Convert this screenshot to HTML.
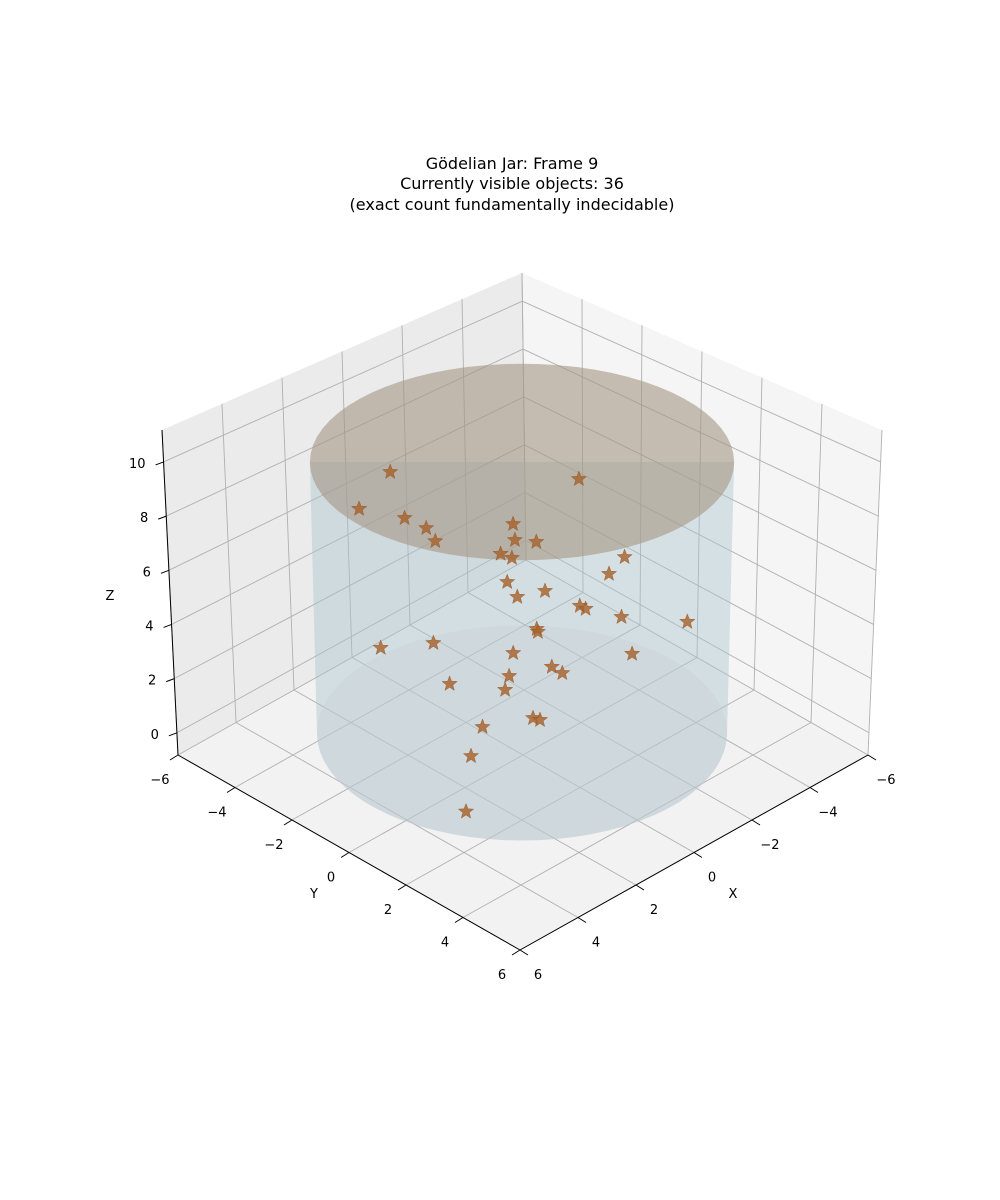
<!DOCTYPE html>
<html><head><meta charset="utf-8"><style>
html,body{margin:0;padding:0;background:#fff;}
svg{display:block;font-family:"DejaVu Sans","Liberation Sans",sans-serif;}
</style></head><body>
<svg id="chart" width="1000" height="1200" viewBox="0 0 1000 1200" xmlns="http://www.w3.org/2000/svg">
<g id="title" font-size="16" text-anchor="middle" fill="#000">
<text x="512" y="169">Gödelian Jar: Frame 9</text>
<text x="512" y="189">Currently visible objects: 36</text>
<text x="512" y="210">(exact count fundamentally indecidable)</text>
</g>
<g id="panes"></g>
<g id="grid"></g>
<g id="jar"></g>
<g id="stars"></g>
<g id="axes"></g>
</svg>
<script>
// data: star positions (x, y, z)
const xs=[2.2,2.73,1.97,1.61,1.46,-0.95,0.15,0.12,-0.24,0.36,0.17,-1.73,-1.47,0.25,-0.39,0.08,-0.98,-1.08,-1.69,-2.81,-0.25,-0.27,1.51,2.41,0.15,-1.88,-0.51,-0.69,0.22,1.24,0.29,-0.19,-0.31,0.68,1.64,3.55];
const ys=[-2.2,-2.73,-1.97,-1.61,-1.46,0.95,-0.15,-0.12,0.24,-0.36,-0.17,1.73,1.47,-0.25,0.39,-0.08,0.98,1.08,1.69,2.81,0.25,0.27,-1.51,-2.41,-0.15,1.88,0.51,0.69,-0.22,-1.24,-0.29,0.19,0.31,-0.68,-0.12,1.62];
const zs=[9.63,8.27,7.93,7.56,7.08,9.37,7.71,7.12,7.05,6.61,6.46,6.49,5.87,5.57,5.24,5.02,4.69,4.58,4.28,4.10,3.84,3.73,3.32,3.14,2.95,2.92,2.44,2.21,2.10,1.81,1.59,0.55,0.48,0.22,0,0];
const xTicks=[-6,-4,-2,0,2,4,6];
const xTickLabels=["−6","−4","−2","0","2","4","6"];
const yTicks=[-6,-4,-2,0,2,4,6];
const yTickLabels=["−6","−4","−2","0","2","4","6"];
const zTicks=[0,2,4,6,8,10];
const zTickLabels=["0","2","4","6","8","10"];
const jarRadius=5, jarBottom=0, jarTop=10;
const ZMIN=-0.82, ZMAX=11.18;

const NS="http://www.w3.org/2000/svg";
function el(tag,attrs,parent){const e=document.createElementNS(NS,tag);for(const k in attrs)e.setAttribute(k,attrs[k]);parent.appendChild(e);return e;}
function L(a,b,t){return [a[0]+(b[0]-a[0])*t,a[1]+(b[1]-a[1])*t];}
const F_L=[178,755],F_F=[520,950],F_R=[868,755],F_B=[526,560];
const T_L=[162,430],T_B=[522,273],T_R=[882,430];
function proj(x,y,z){const vx=29+0.1*z, vy=15.2-0.13*z;
  return [522+(y-x)*vx, 733-27.1*z+(x+y)*vy];}
const fx=v=>(6-v)/12;
const fy=v=>(v+6)/12;
const fz=v=>(v-ZMIN)/(ZMAX-ZMIN);

const panes=document.getElementById('panes');
let p;
p=el('polygon',{points:[F_L,F_F,F_R,F_B].join(' '),fill:'#f2f2f2'},panes);

p=el('polygon',{points:[T_L,T_B,F_B,F_L].join(' '),fill:'#ebebeb'},panes);

p=el('polygon',{points:[T_B,T_R,F_R,F_B].join(' '),fill:'#f5f5f5'},panes);


const grid=document.getElementById('grid');
function gl(a,b,name){const l=el('line',{x1:a[0],y1:a[1],x2:b[0],y2:b[1],stroke:'#b0b0b0','stroke-width':0.9},grid);
  }
xTicks.forEach(v=>{const t=fx(v);
  gl(L(F_L,F_B,t),L(F_F,F_R,t),'floor-grid-x');
  gl(L(F_L,F_B,t),L(T_L,T_B,t),'wall-grid-x');});
yTicks.forEach(v=>{const t=fy(v);
  gl(L(F_L,F_F,t),L(F_B,F_R,t),'floor-grid-y');
  gl(L(F_B,F_R,t),L(T_B,T_R,t),'wall-grid-y');});
zTicks.forEach(v=>{const t=fz(v);
  const a=L(F_L,T_L,t),b=L(F_B,T_B,t),c=L(F_R,T_R,t);
  gl(a,b,'left-wall-grid-z');gl(b,c,'right-wall-grid-z');});

const jar=document.getElementById('jar');
function ring(z){const pts=[];for(let i=0;i<=72;i++){const a=i/72*2*Math.PI;pts.push(proj(jarRadius*Math.cos(a),jarRadius*Math.sin(a),z));}return pts;}
const rb=ring(jarBottom), rt=ring(jarTop);
function extremes(r){let mn=r[0],mx=r[0];r.forEach(q=>{if(q[0]<mn[0])mn=q;if(q[0]>mx[0])mx=q;});return [mn,mx];}
const [bl,br]=extremes(rb),[tl,tr]=extremes(rt);
const lowerB=rb.filter(q=>q[1]>=(bl[1]+br[1])/2-0.01).sort((a,b)=>b[0]-a[0]);
let d='M'+tl.join(',')+' L'+bl.join(',');
lowerB.reverse().forEach(q=>d+=' L'+q.join(','));
d+=' L'+br.join(',')+' L'+tr.join(',')+' Z';
p=el('path',{d:d,fill:'rgba(170,195,205,0.42)'},jar);

p=el('polygon',{points:rb.map(q=>q.join(',')).join(' '),fill:'rgba(200,205,208,0.35)'},jar);

p=el('polygon',{points:rt.map(q=>q.join(',')).join(' '),fill:'rgba(165,150,132,0.6)'},jar);


const stars=document.getElementById('stars');
function starPts(cx,cy,R,r){const pts=[];for(let i=0;i<10;i++){const a=-Math.PI/2+i*Math.PI/5;const rr=i%2?r:R;pts.push([cx+rr*Math.cos(a),cy+rr*Math.sin(a)].map(v=>v.toFixed(1)).join(','));}return pts.join(' ');}
for(let i=0;i<xs.length;i++){const q=proj(xs[i],ys[i],zs[i]);
  const s=el('polygon',{points:starPts(q[0],q[1],8,3.4),fill:'rgba(166,96,40,0.8)',stroke:'rgba(150,85,35,0.8)','stroke-width':0.5},stars);
  
  }

const axes=document.getElementById('axes');
function al(a,b,name){const l=el('line',{x1:a[0],y1:a[1],x2:b[0],y2:b[1],stroke:'#000','stroke-width':1},axes);
  return l;}
function tx(x,y,s,name,anchor){const t=el('text',{x:x,y:y,'font-size':13,'text-anchor':anchor||'middle',fill:'#000'},axes);t.textContent=s;
  return t;}
al(F_L,F_F,'y-axis-line');al(F_F,F_R,'x-axis-line');al(F_L,T_L,'z-axis-line');
yTicks.forEach((v,i)=>{const q=L(F_L,F_F,fy(v));al(q,[q[0]-8,q[1]+5],'y-tick');
  tx(q[0]-18,q[1]+29,yTickLabels[i],'y-tick-label');});
xTicks.forEach((v,i)=>{const pt=L(F_F,F_R,(6-v)/12);al(pt,[pt[0]+8,pt[1]+5],'x-tick');
  tx(pt[0]+18,pt[1]+29,xTickLabels[i],'x-tick-label');});
zTicks.forEach((v,i)=>{const q=L(F_L,T_L,fz(v));al(q,[q[0]-8,q[1]+3],'z-tick');
  tx(q[0]-18,q[1]+6,zTickLabels[i],'z-tick-label','end');});
tx(314,898,'Y','y-axis-title');
tx(733,898,'X','x-axis-title');
tx(110,600,'Z','z-axis-title');
</script>
</body></html>
